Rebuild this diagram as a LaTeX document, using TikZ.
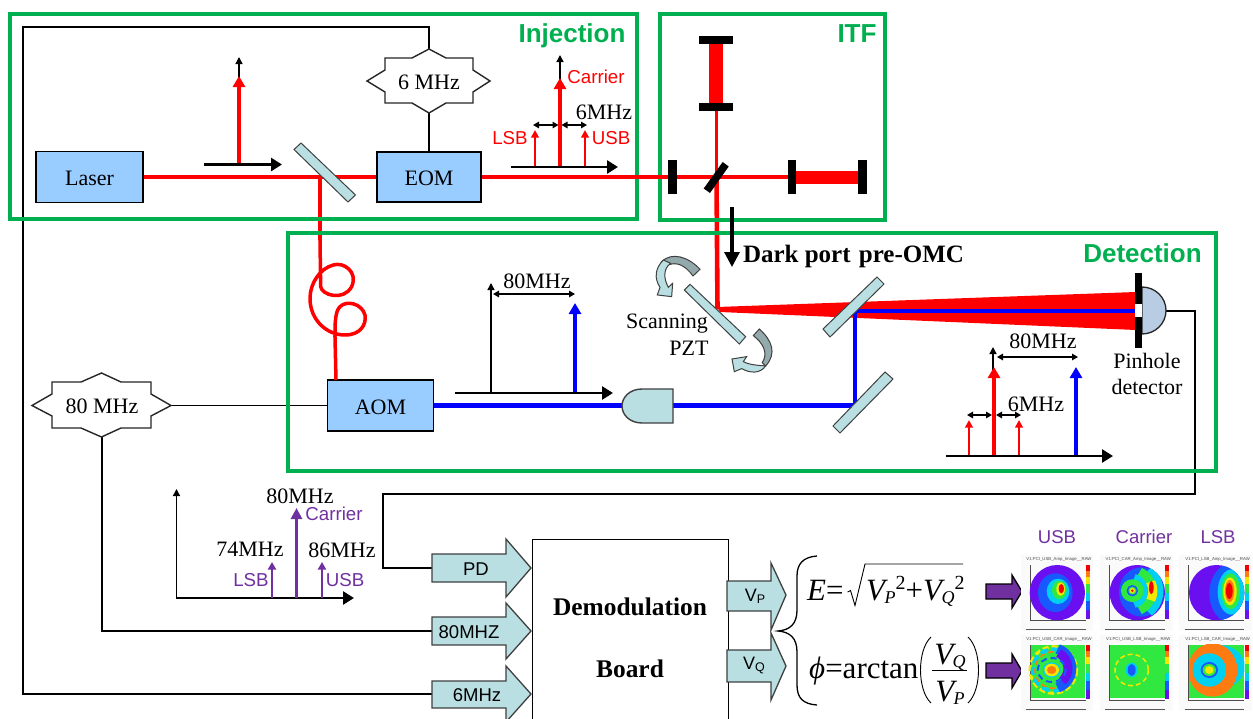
\documentclass[tikz,border=0pt]{standalone}
\usepackage{fontspec}
\setmainfont{Liberation Serif}
\setsansfont{Liberation Sans}
\usetikzlibrary{arrows.meta}
\definecolor{gbox}{HTML}{00B050}
\definecolor{boxblue}{HTML}{99CCFF}
\definecolor{teal}{HTML}{B9DFE3}
\definecolor{bandgrey}{HTML}{93A9AC}
\definecolor{purp}{HTML}{7030A0}
\definecolor{detblue}{HTML}{B8CCE4}
\definecolor{rviolet}{HTML}{6A10F0}
\definecolor{rblue}{HTML}{1858FF}
\definecolor{rcyan}{HTML}{00D0F0}
\definecolor{rgreen}{HTML}{30E840}
\definecolor{ryellow}{HTML}{F4E800}
\definecolor{rorange}{HTML}{FF7A10}
\definecolor{rred}{HTML}{F00000}
\newcommand{\fs}[1]{\fontsize{#1}{#1}\selectfont}
\newcommand{\blob}[5]{\fill[#5] (#1,#2) ellipse[x radius=#3,y radius=#4];}
\newcommand{\ringarc}[7]{\draw[#6,line width=#7] (#1,#2) ++(#4:#3) arc[start angle=#4,end angle=#5,radius=#3];}
\newcommand{\pframe}[3]{% x-left, y-top, title
  \fill[black!2] (#1-30,#2-30) rectangle (#1+188,#2+198);
  \node[font=\sffamily\fs{4.3},text=black!70,inner sep=0] at (#1+85,#2-16) {#3};
  \draw[black!70,line width=.35] (#1-3,#2) -- (#1-3,#2+165) -- (#1+165,#2+165);
  \fill[rred] (#1+166,#2) rectangle (#1+178,#2+18);
  \fill[rorange] (#1+166,#2+18) rectangle (#1+178,#2+36);
  \fill[ryellow] (#1+166,#2+36) rectangle (#1+178,#2+58);
  \fill[rgreen] (#1+166,#2+58) rectangle (#1+178,#2+84);
  \fill[rcyan] (#1+166,#2+84) rectangle (#1+178,#2+108);
  \fill[rblue] (#1+166,#2+108) rectangle (#1+178,#2+135);
  \fill[rviolet] (#1+166,#2+135) rectangle (#1+178,#2+162);
  \draw[black!65,line width=.9] (#1-14,#2+192) -- (#1+165,#2+192);
}
\newcommand{\VV}[1]{{\fs{31}\itshape V\kern-.5pt\raisebox{-3pt}{\fs{18}#1}}}
\tikzset{
  greenbox/.style={draw=gbox,line width=3.6},
  bluebox/.style={draw=black,fill=boxblue,line width=1.4,inner sep=0,font=\fs{22}},
  thinline/.style={black,line width=1.4},
  redbeam/.style={red,line width=3.9},
  bluebeam/.style={blue,line width=4.2},
  optic/.style={draw=black!75,fill=teal,line width=1},
  blackmirror/.style={fill=black},
  axisarrow/.style={black,line width=2.6,-{Triangle[length=11pt,width=13pt]}},
  uparrow/.style={black,line width=1.4,-{Triangle[length=7pt,width=7pt]}},
  bigred/.style={red,line width=3.4,-{Triangle[length=11pt,width=12pt]}},
  bigblue/.style={blue,line width=3.4,-{Triangle[length=11pt,width=12pt]}},
  smallred/.style={red,line width=2.4,-{Triangle[length=7.5pt,width=7.5pt]}},
  bigpurp/.style={purp,line width=3.2,-{Triangle[length=11pt,width=11pt]}},
  smallpurp/.style={purp,line width=2.5,-{Triangle[length=7.5pt,width=8pt]}},
  dbl/.style={black,line width=1.4,{Triangle[length=6pt,width=6.5pt]}-{Triangle[length=6pt,width=6.5pt]}},
  serif/.style={inner sep=0,font=\fs{22}},
  sanslabel/.style={inner sep=0,font=\sffamily\fs{18.7}},
  titlelabel/.style={inner sep=0,text=gbox,font=\sffamily\bfseries\fs{26},anchor=base},
  tealarrow/.style={draw=black!75,fill=teal,line width=1.3},
  purplearrow/.style={draw=black,fill=purp,line width=1.3},
  oscstar/.style={draw=black!85,fill=white,line width=1.4},
}
\begin{document}
\begin{tikzpicture}[x=1pt,y=-1pt]
\useasboundingbox (0,0) rectangle (1253,718);
\clip (0,0) rectangle (1253,718);
\fill[white] (0,0) rectangle (1253,718);

% ---- named nodes ----
\node[bluebox,minimum width=107pt,minimum height=51pt] (laser) at (89.5,177) {};
\node[bluebox,minimum width=104pt,minimum height=50pt] (eom) at (429,177) {};
\node[bluebox,minimum width=106pt,minimum height=51pt] (aom) at (380.5,405.5) {};
\node[serif] (tLaser) at (laser.center) [yshift=-1pt] {Laser};
\node[serif] (tEom) at (eom.center) [yshift=-1pt] {EOM};
\node[serif] (tAom) at (aom.center) [yshift=-1.5pt] {AOM};
\coordinate (bs) at (320,177);
\coordinate (bsT) at (716.5,177);
\coordinate (imL) at (668,177);
\coordinate (imR) at (788,177);
\coordinate (armT) at (716.5,111);
\coordinate (scan) at (717.5,309);
\coordinate (m1) at (855,311);
\coordinate (m2) at (855,405.5);
\coordinate (phole) at (1135,311);
\coordinate (combL) at (622,405.5);
\coordinate (combR) at (673,405.5);
\coordinate (oscSixT) at (429,49);
\coordinate (oscSixB) at (429,113);
\coordinate (oscEightL) at (32,405.5);
\coordinate (oscEightR) at (171,405.5);
\coordinate (oscEightB) at (102,437);
\coordinate (detR) at (1166,311);
\coordinate (inPD) at (432,568);
\coordinate (inEight) at (432,631);
\coordinate (inSix) at (432,694);

% ---- signal wires ----
\draw[thinline] (oscSixT) -- (429,27) -- (23,27) -- (23,694) -- (inSix);
\draw[thinline] (oscSixB) -- (eom.north);
\draw[thinline] (oscEightR) -- (aom.west);
\draw[thinline] (oscEightB) -- (102,631) -- (inEight);
\draw[thinline] (detR) -- (1195,311) -- (1195,494) -- (383,494) -- (383,568) -- (inPD);

% ---- fibre, beams ----
\draw[red,line width=3.5] (bs) -- (320,240);
\begin{scope}[shift={(280,240)},x=.3333pt,y=-.3333pt]
\draw[red,line width=3.5,line join=round] (120,0) -- (122,140) .. controls (125,165) and (190,185) .. (215,140) .. controls (235,95) and (190,65) .. (160,75) .. controls (120,85) and (90,130) .. (90,175) .. controls (90,240) and (140,285) .. (195,285) .. controls (240,285) and (260,255) .. (255,225) .. controls (245,190) and (200,180) .. (180,200) .. controls (165,215) and (165,250) .. (165,290) -- (168,420);
\end{scope}
\draw[redbeam,line width=4.6] (bsT) -- (scan);

% green frames
\draw[greenbox] (10,14) rectangle (637,219);
\draw[greenbox] (660,14) rectangle (885,220);
\draw[greenbox] (288,233) rectangle (1216,471);
\node[titlelabel] (tInj) at (572,42) {Injection};
\node[titlelabel] (tItf) at (857,42) {ITF};
\node[titlelabel] (tDet) at (1142.5,262) {Detection};

\draw[redbeam] (laser.east) -- (eom.west);
\draw[redbeam] (eom.east) -- (imL);
\draw[redbeam] (imL) -- (imR);
\draw[redbeam] (armT) -- (bsT);
\fill[red] (709,44) rectangle (723,103);
\fill[red] (796,171) rectangle (858,184);

% ITF mirrors
\fill[blackmirror] (699,36) rectangle (733,44);
\fill[blackmirror] (699,103) rectangle (733,111);
\fill[blackmirror] (668,160) rectangle (677,194);
\fill[blackmirror] (788,160) rectangle (796,194);
\fill[blackmirror] (858,160) rectangle (867,194);
\fill[blackmirror] (722.7,162) -- (728.7,166.5) -- (710,193) -- (703.7,188.5) -- cycle;

% beam splitter on injection
\draw[optic] (301,143) -- (355.5,195) -- (348,202) -- (294,149.5) -- cycle;

% oscillators
\draw[oscstar] (367,81) -- (385,70) -- (385,58) -- (412,58) -- (429,49) -- (446,58) -- (473,58) -- (473,70) -- (490,81) -- (473,92) -- (473,103) -- (446,103) -- (429,113) -- (412,103) -- (385,103) -- (385,92) -- cycle;
\node[serif] (sixL) at (429,82) {6 MHz};
\draw[oscstar] (32,405.5) -- (52,394) -- (52,382) -- (81,382) -- (101.5,373) -- (121,382) -- (151,382) -- (151,394) -- (171,405.5) -- (151,416) -- (151,428) -- (121,428) -- (101.5,437) -- (81,428) -- (52,428) -- (52,416) -- cycle;
\node[serif] (eightL) at (102,406) {80 MHz};

% spectrum 1
\draw[uparrow] (239,82) -- (239,57);
\draw[bigred] (239,165) -- (239,76);
\draw[axisarrow] (204,164.5) -- (282,164.5);

% spectrum 2
\draw[uparrow] (560,84) -- (560,55);
\draw[bigred] (560,167) -- (560,78);
\draw[smallred] (535,167) -- (535,130);
\draw[smallred] (585,167) -- (585,130);
\draw[axisarrow] (511,167) -- (618,167);
\draw[dbl] (533,125) -- (558.5,125);
\draw[dbl] (561.5,125) -- (587,125);
\node[sanslabel,text=red] (lCar) at (596,77) {Carrier};
\node[sanslabel,text=red] (lLsb) at (510,138) {LSB};
\node[sanslabel,text=red] (lUsb) at (611,138) {USB};
\node[serif] (l6a) at (604,112) {6MHz};

% dark port
\draw[black,line width=3.2,-{Triangle[length=15pt,width=15pt]}] (732,207) -- (732,267);
\node[inner sep=0,anchor=base,font=\bfseries\fs{25}] (dark) at (853.5,262) {Dark port\hspace{2pt} pre-OMC};

% Detection beam
\fill[red] (717,307) -- (1136,292) -- (1136,330) -- (720,312) -- cycle;
\draw[bluebeam] (aom.east) -- (combL);
\draw[bluebeam] (combR) -- (m2) -- (m1) -- (phole);

% optics in detection
\draw[optic] (690,284.3) -- (745.7,336.7) -- (739.3,344) -- (684.3,290) -- cycle;
\draw[optic] (877,277) -- (884,284) -- (830,337) -- (823,329) -- cycle;
\draw[optic] (885,372) -- (893,379) -- (840,433) -- (833,426) -- cycle;
\draw[optic,line width=1.4] (673,389) -- (642,389) .. controls (630,389) and (622,397) .. (622,406) .. controls (622,415) and (630,423) .. (642,423) -- (673,423) -- cycle;

% curved PZT arrows
\begin{scope}[shift={(600,0)},x=.3333pt,y=-.3333pt]
\draw[optic,fill=bandgrey] (300,808) .. controls (265,770) and (215,755) .. (185,785) -- (205,795) .. controls (230,785) and (255,795) .. (279,828) -- cycle;
\draw[optic] (190,780) .. controls (165,805) and (162,835) .. (180,862) -- (172,885) -- (215,890) -- (218,850) -- (205,862) .. controls (190,835) and (190,805) .. (212,790) -- cycle;
\draw[optic,fill=bandgrey] (478,987) .. controls (515,1020) and (532,1060) .. (497,1098) -- (487,1088) .. controls (505,1060) and (490,1030) .. (460,1007) -- cycle;
\draw[optic] (497,1098) .. controls (480,1122) and (450,1120) .. (425,1106) -- (403,1115) -- (396,1077) -- (440,1070) -- (430,1085) .. controls (450,1096) and (480,1096) .. (497,1098) -- cycle;
\end{scope}
\node[serif,anchor=base] (lScan) at (667,328) {Scanning};
\node[serif,anchor=base] (lPzt) at (689,355) {PZT};

% spectrum 3
\draw[uparrow] (491,393) -- (491,283);
\draw[bigblue] (575,393) -- (575,303);
\draw[axisarrow] (455,393) -- (613,393);
\draw[dbl] (493,294) -- (575,294);
\node[serif] (l80a) at (537,281) {80MHz};

% pinhole detector
\draw[black!85,line width=1.3,fill=detblue] (1142,287) arc[start angle=-90,end angle=90,x radius=24,y radius=23.5] -- cycle;
\fill[white] (1135,304) rectangle (1142,317);
\fill[blackmirror] (1135,273) rectangle (1142,304);
\fill[blackmirror] (1135,317) rectangle (1142,348);
\node[serif] (lPin) at (1147,361) {Pinhole};
\node[serif] (lDet) at (1147,387) {detector};

% spectrum 4
\draw[uparrow] (993,372) -- (993,347);
\draw[bigred] (994,456) -- (994,367);
\draw[bigblue] (1076,456) -- (1076,367);
\draw[smallred] (969,456) -- (969,420);
\draw[smallred] (1019,456) -- (1019,420);
\draw[axisarrow] (946,456) -- (1113,456);
\draw[dbl] (997,357) -- (1078,357);
\draw[dbl] (967,415) -- (992,415);
\draw[dbl] (996,415) -- (1021,415);
\node[serif] (l80b) at (1043,341) {80MHz};
\node[serif] (l6b) at (1036,404) {6MHz};

% spectrum 5
\draw[uparrow,line width=1.6] (176.5,598) -- (176.5,489);
\draw[axisarrow] (175.5,598) -- (354,598);
\draw[bigpurp] (296.5,598) -- (296.5,508);
\draw[smallpurp] (272,598) -- (272,562);
\draw[smallpurp] (322,598) -- (322,562);
\node[serif] (l80c) at (300,496) {80MHz};
\node[serif] (l74) at (250,549) {74MHz};
\node[serif] (l86) at (342,550) {86MHz};
\node[sanslabel,text=purp] (pCar) at (334,514) {Carrier};
\node[sanslabel,text=purp] (pLsb) at (251,580) {LSB};
\node[sanslabel,text=purp] (pUsb) at (345,580) {USB};

% demod board
\node[draw=black,fill=white,line width=1.4,minimum width=196pt,minimum height=200pt,anchor=north west,inner sep=0] (board) at (531.5,539) {};
\node[inner sep=0,font=\bfseries\fs{25.4}] (bd1) at (630,607) {Demodulation};
\node[inner sep=0,font=\bfseries\fs{25.4}] (bd2) at (630,669) {Board};

% input arrows
\draw[tealarrow] (432,554) -- (506,554) -- (506,539) -- (531,568) -- (506,597) -- (506,582) -- (432,582) -- cycle;
\node[inner sep=0,font=\sffamily\fs{18.5}] (aPd) at (476,569) {PD};
\draw[tealarrow] (432,617) -- (506,617) -- (506,603) -- (531,631) -- (506,659) -- (506,645) -- (432,645) -- cycle;
\node[inner sep=0,font=\sffamily\fs{18.5}] (a80) at (469,632) {80MHZ};
\draw[tealarrow] (432,681) -- (506,681) -- (506,666) -- (531,694) -- (506,722) -- (506,708) -- (432,708) -- cycle;
\node[inner sep=0,font=\sffamily\fs{18.5}] (a6) at (477,695) {6MHz};

% output arrows
\draw[tealarrow] (727,581) -- (771,581) -- (771,563) -- (786,595) -- (771,630) -- (771,611) -- (727,611) -- cycle;
\node[inner sep=0,font=\sffamily\fs{18}] (aVp) at (755,596.5) {V\raisebox{-2pt}{\fs{12.5}P}};
\draw[tealarrow] (727,650) -- (771,650) -- (771,633) -- (786,666) -- (771,700) -- (771,682) -- (727,682) -- cycle;
\node[inner sep=0,font=\sffamily\fs{18}] (aVq) at (754,665.5) {V\raisebox{-2pt}{\fs{12.5}Q}};

% brace
\draw[black,line width=1.3] (817,556) .. controls (803,557) and (797,564) .. (797,576) -- (797,610) .. controls (797,624) and (790,630) .. (778,631) .. controls (790,632) and (797,638) .. (797,652) -- (797,685) .. controls (797,698) and (803,704) .. (817,705);

% equation 1
\node[inner sep=0,anchor=base west,font=\fs{31}] (eqE) at (807,600) {\textit{E}=};
\draw[black,line width=.9] (847.5,592) -- (850.5,590.5) -- (855,605.5) -- (865,564) -- (963,564);
\node[inner sep=0,anchor=base west] (eqR) at (866,600) {\VV{P}\raisebox{11pt}{\fs{20}2}\fs{31}+\VV{Q}\raisebox{11pt}{\fs{20}2}};

% equation 2
\node[inner sep=0,anchor=base west,font=\fs{31}] (eqPhi) at (809,678) {\textit{ϕ}=arctan};
\draw[black,line width=.9] (931,637) .. controls (917,650) and (917,690) .. (931,703);
\draw[black,line width=.9] (968,637) .. controls (982,650) and (982,690) .. (968,703);
\node[inner sep=0,anchor=base] (eqVq) at (950,664) {\VV{Q}};
\draw[black,line width=.9] (932,670) -- (967,670);
\node[inner sep=0,anchor=base] (eqVp) at (950,701) {\VV{P}};

% purple block arrows
\draw[purplearrow] (986,584) -- (1012,584) -- (1012,575) -- (1022,591.5) -- (1012,608) -- (1012,599) -- (986,599) -- cycle;
\draw[purplearrow] (986,663) -- (1012,663) -- (1012,654) -- (1022,671) -- (1012,688) -- (1012,678) -- (986,678) -- cycle;

% panel headings
\node[inner sep=0,text=purp,font=\sffamily\fs{18.5}] (hU) at (1057,537) {USB};
\node[inner sep=0,text=purp,font=\sffamily\fs{18.5}] (hC) at (1144,537) {Carrier};
\node[inner sep=0,text=purp,font=\sffamily\fs{18.5}] (hL) at (1218,537) {LSB};

% image panels
\begin{scope}[shift={(1000,520)},x=.3333pt,y=-.3333pt]
\pframe{92}{135}{V1:PCI\_USB\_Amp\_Image\_\_RAW}
\pframe{330}{135}{V1:PCI\_CAR\_Amp\_Image\_\_RAW}
\pframe{568}{135}{V1:PCI\_LSB\_Amp\_Image\_\_RAW}
\pframe{92}{375}{V1:PCI\_USB\_CAR\_Image\_\_RAW}
\pframe{330}{375}{V1:PCI\_USB\_LSB\_Image\_\_RAW}
\pframe{568}{375}{V1:PCI\_LSB\_CAR\_Image\_\_RAW}
% USB amp
\blob{172}{218}{83}{83}{rviolet}
\blob{166}{218}{52}{58}{rblue}
\blob{174}{214}{34}{38}{rcyan}
\blob{178}{210}{22}{28}{rgreen}
\blob{182}{207}{13}{20}{ryellow}
\blob{184}{206}{8}{14}{rred}
% CAR amp
\blob{412}{218}{83}{83}{rviolet}
\begin{scope}
\clip (412,218) circle[radius=83];
\blob{425}{216}{68}{74}{rblue}
\ringarc{392}{213}{80}{-50}{50}{rcyan}{12}
\ringarc{392}{213}{62}{-65}{65}{rgreen}{10}
\ringarc{392}{213}{62}{-25}{25}{ryellow}{12}
\blob{454}{203}{7}{20}{rred}
\ringarc{392}{213}{42}{-75}{75}{rcyan}{7}
\end{scope}
\draw[rgreen,line width=6] (397,212) circle[radius=25];
\blob{397}{212}{17}{17}{rblue}
\blob{397}{212}{12}{12}{rgreen}
\blob{397}{212}{8}{8}{ryellow}
\blob{397}{212}{4}{4}{rred}
% LSB amp
\blob{650}{218}{83}{83}{rviolet}
\begin{scope}
\clip (650,218) circle[radius=83];
\blob{700}{220}{72}{92}{rblue}
\blob{695}{216}{42}{68}{rcyan}
\blob{692}{214}{28}{54}{rgreen}
\blob{690}{214}{20}{42}{ryellow}
\blob{689}{213}{14}{33}{rorange}
\blob{688}{213}{10}{24}{rred}
\end{scope}
% USB CAR phase
\fill[rgreen] (92,375) rectangle (255,535);
\draw[ryellow,line width=3,dash pattern=on 6 off 3] (160,450) circle[radius=70];
\draw[rcyan,line width=4,dash pattern=on 8 off 4] (160,450) circle[radius=62];
\draw[rorange,line width=1.6,dash pattern=on 5 off 4] (160,450) circle[radius=55];
\ringarc{152}{445}{62}{-70}{70}{rblue}{10}
\ringarc{152}{445}{52}{-62}{48}{rviolet}{9}
\draw[rblue,line width=2,dash pattern=on 6 off 4] (155,450) ellipse[x radius=42,y radius=36];
\blob{155}{450}{27}{23}{rcyan}
\blob{155}{450}{22}{19}{ryellow}
\blob{155}{450}{14}{12}{rorange}
% USB LSB phase
\fill[rgreen] (330,375) rectangle (495,535);
\draw[ryellow,line width=1.5,dash pattern=on 5 off 3] (395,450) ellipse[x radius=50,y radius=47];
\blob{395}{450}{18}{22}{rcyan}
\blob{395}{450}{12}{18}{rblue}
% LSB CAR phase
\fill[rgreen] (568,375) rectangle (733,535);
\begin{scope}
\clip (568,375) rectangle (733,535);
\blob{655}{440}{80}{66}{rcyan}
\blob{638}{450}{74}{80}{rorange}
\end{scope}
\blob{628}{450}{50}{50}{rcyan}
\blob{628}{450}{26}{24}{rblue}
\blob{628}{450}{20}{18}{rgreen}
\blob{628}{450}{13}{12}{ryellow}
\end{scope}
\end{tikzpicture}
\end{document}
